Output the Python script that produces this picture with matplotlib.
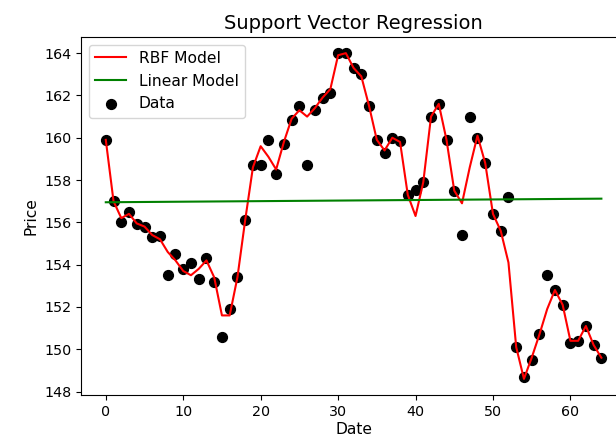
import numpy as np
import matplotlib
matplotlib.use("Agg")
from matplotlib import pyplot as plt

# observed prices, one per day
dates = np.arange(65)
prices = [159.9, 157.0, 156.0, 156.5, 155.9, 155.8, 155.3, 155.35, 153.5, 154.5,
          153.8, 154.1, 153.3, 154.3, 153.2, 150.6, 151.9, 153.4, 156.1, 158.7,
          158.7, 159.9, 158.3, 159.7, 160.85, 161.5, 158.7, 161.3, 161.9, 162.1,
          164.0, 164.0, 163.3, 163.0, 161.5, 159.9, 159.3, 160.0, 159.85, 157.3,
          157.55, 157.9, 161.0, 161.6, 159.9, 157.5, 155.4, 161.0, 160.0, 158.8,
          156.4, 155.6, 157.2, 150.1, 148.7, 149.5, 150.7, 153.5, 152.8, 152.1,
          150.3, 150.4, 151.1, 150.2, 149.6]

# fitted curves
rbf_fit = [159.9, 157.0, 156.2, 156.4, 155.95, 155.8, 155.4, 155.2, 154.6, 154.2,
           153.7, 153.5, 153.8, 154.2, 153.4, 151.6, 151.6, 153.4, 156.1, 158.6,
           159.6, 159.1, 158.5, 159.8, 160.9, 161.3, 161.0, 161.4, 161.9, 162.3,
           163.9, 164.0, 163.3, 162.9, 161.5, 159.9, 159.4, 160.0, 159.8, 157.3,
           156.3, 157.9, 161.0, 161.6, 159.9, 157.5, 156.9, 158.6, 160.1, 158.8,
           156.4, 155.6, 154.1, 150.1, 148.6, 149.6, 150.7, 151.9, 152.8, 152.1,
           150.4, 150.4, 151.1, 150.2, 149.6]
lin_start, lin_end = 156.95, 157.12
lin_fit = np.linspace(lin_start, lin_end, len(dates))

fig = plt.figure(figsize=(6.16, 4.44), dpi=100)
ax = fig.add_axes([0.1315, 0.110, 0.885, 0.807])

pts = ax.scatter(dates, prices, color='black', s=50, label='Data')
l1, = ax.plot(dates, rbf_fit, color='red', lw=1.5, label='RBF Model')
l2, = ax.plot(dates, lin_fit, color='green', lw=1.5, label='Linear Model')

ax.set_xlim(-3.2, 67.2)
ax.set_yticks(np.arange(148, 165, 2))
ax.tick_params(labelsize=10.3)
ax.set_xlabel('Date', fontsize=11.2, labelpad=2)
ax.set_ylabel('Price', fontsize=11.2)
ax.set_title('Support Vector Regression', fontsize=14)
ax.legend(handles=[l1, l2, pts], loc='upper left', fontsize=11.2)

fig.savefig('out.png', dpi=100)
